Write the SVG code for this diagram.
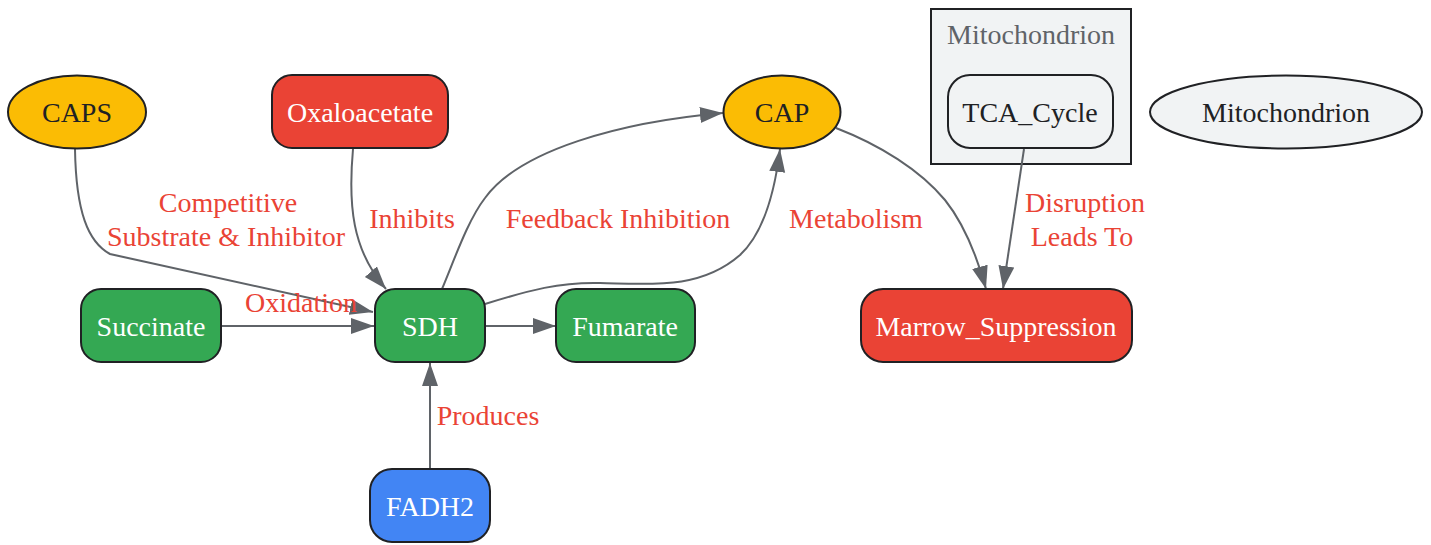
<svg xmlns="http://www.w3.org/2000/svg" width="1431" height="545" viewBox="0 0 1431 545">
<style>
text{font-family:"Liberation Serif","Times New Roman",serif;font-size:28px;text-anchor:middle}
.n{stroke:#202124;stroke-width:2}
.y{fill:#fbbc04}.r{fill:#ea4335}.g{fill:#34a853}.b{fill:#4285f4}.l{fill:#f1f3f4}
.tw{fill:#ffffff}.td{fill:#202124}
.lbl{fill:#ea4335}
.e{fill:none;stroke:#5f6368;stroke-width:2}
</style>
<defs>
<marker id="ah" markerUnits="userSpaceOnUse" markerWidth="26" markerHeight="18" refX="23" refY="8" orient="auto">
<path d="M0,0 L23,8 L0,16 Z" fill="#5f6368"/>
</marker>
</defs>
<rect width="1431" height="545" fill="#ffffff"/>
<g id="cluster-mito">
<rect x="931" y="9" width="200" height="155" fill="#f1f3f4" stroke="#202124" stroke-width="2"/>
<text x="1031" y="44" fill="#5f6368">Mitochondrion</text>
</g>
<g id="edges">
<path class="e" d="M75,149 C76,212 88,242 110,254 L373,312" marker-end="url(#ah)"/>
<path class="e" d="M353,149 C348,205 352,250 386,289" marker-end="url(#ah)"/>
<path class="e" d="M221,326 L374,326" marker-end="url(#ah)"/>
<path class="e" d="M485,326 L556,326" marker-end="url(#ah)"/>
<path class="e" d="M442,289 C455,258 468,220 485,198 C520,150 620,122 723,113" marker-end="url(#ah)"/>
<path class="e" d="M485,304 C530,290 560,282 600,283 C650,284 700,290 740,255 C765,232 775,190 780,149" marker-end="url(#ah)"/>
<path class="e" d="M836,128 C880,145 920,170 945,200 C965,225 978,260 986,289" marker-end="url(#ah)"/>
<path class="e" d="M1024,149 L1003,289" marker-end="url(#ah)"/>
<path class="e" d="M430,469 L430,363" marker-end="url(#ah)"/>
<text class="lbl" x="228" y="212">Competitive</text>
<text class="lbl" x="226" y="246">Substrate &amp; Inhibitor</text>
<text class="lbl" x="412" y="228">Inhibits</text>
<text class="lbl" x="301" y="312">Oxidation</text>
<text class="lbl" x="618" y="228">Feedback Inhibition</text>
<text class="lbl" x="856" y="228">Metabolism</text>
<text class="lbl" x="1085" y="212">Disruption</text>
<text class="lbl" x="1082" y="246">Leads To</text>
<text class="lbl" x="488" y="425">Produces</text>
</g>
<g id="CAPS"><ellipse class="n y" cx="77" cy="112" rx="69" ry="36.5"/><text class="td" x="77" y="122">CAPS</text></g>
<g id="Oxaloacetate"><rect class="n r" x="272" y="75" width="176" height="73" rx="20"/><text class="tw" x="360" y="122">Oxaloacetate</text></g>
<g id="CAP"><ellipse class="n y" cx="782" cy="112" rx="58.5" ry="36.5"/><text class="td" x="782" y="122">CAP</text></g>
<g id="TCA_Cycle"><rect class="n l" x="948" y="75" width="165" height="73" rx="22"/><text class="td" x="1030" y="122">TCA_Cycle</text></g>
<g id="Mitochondrion"><ellipse class="n l" cx="1286" cy="112" rx="136" ry="36.5"/><text class="td" x="1286" y="122">Mitochondrion</text></g>
<g id="Succinate"><rect class="n g" x="81" y="289" width="140" height="73" rx="20"/><text class="tw" x="151" y="336">Succinate</text></g>
<g id="SDH"><rect class="n g" x="375" y="289" width="110" height="73" rx="20"/><text class="tw" x="430" y="336">SDH</text></g>
<g id="Fumarate"><rect class="n g" x="556" y="289" width="139" height="73" rx="20"/><text class="tw" x="625" y="336">Fumarate</text></g>
<g id="Marrow_Suppression"><rect class="n r" x="861" y="289" width="271" height="73" rx="22"/><text class="tw" x="996" y="336">Marrow_Suppression</text></g>
<g id="FADH2"><rect class="n b" x="370" y="469" width="120" height="73" rx="22"/><text class="tw" x="430" y="516">FADH2</text></g>
</svg>
